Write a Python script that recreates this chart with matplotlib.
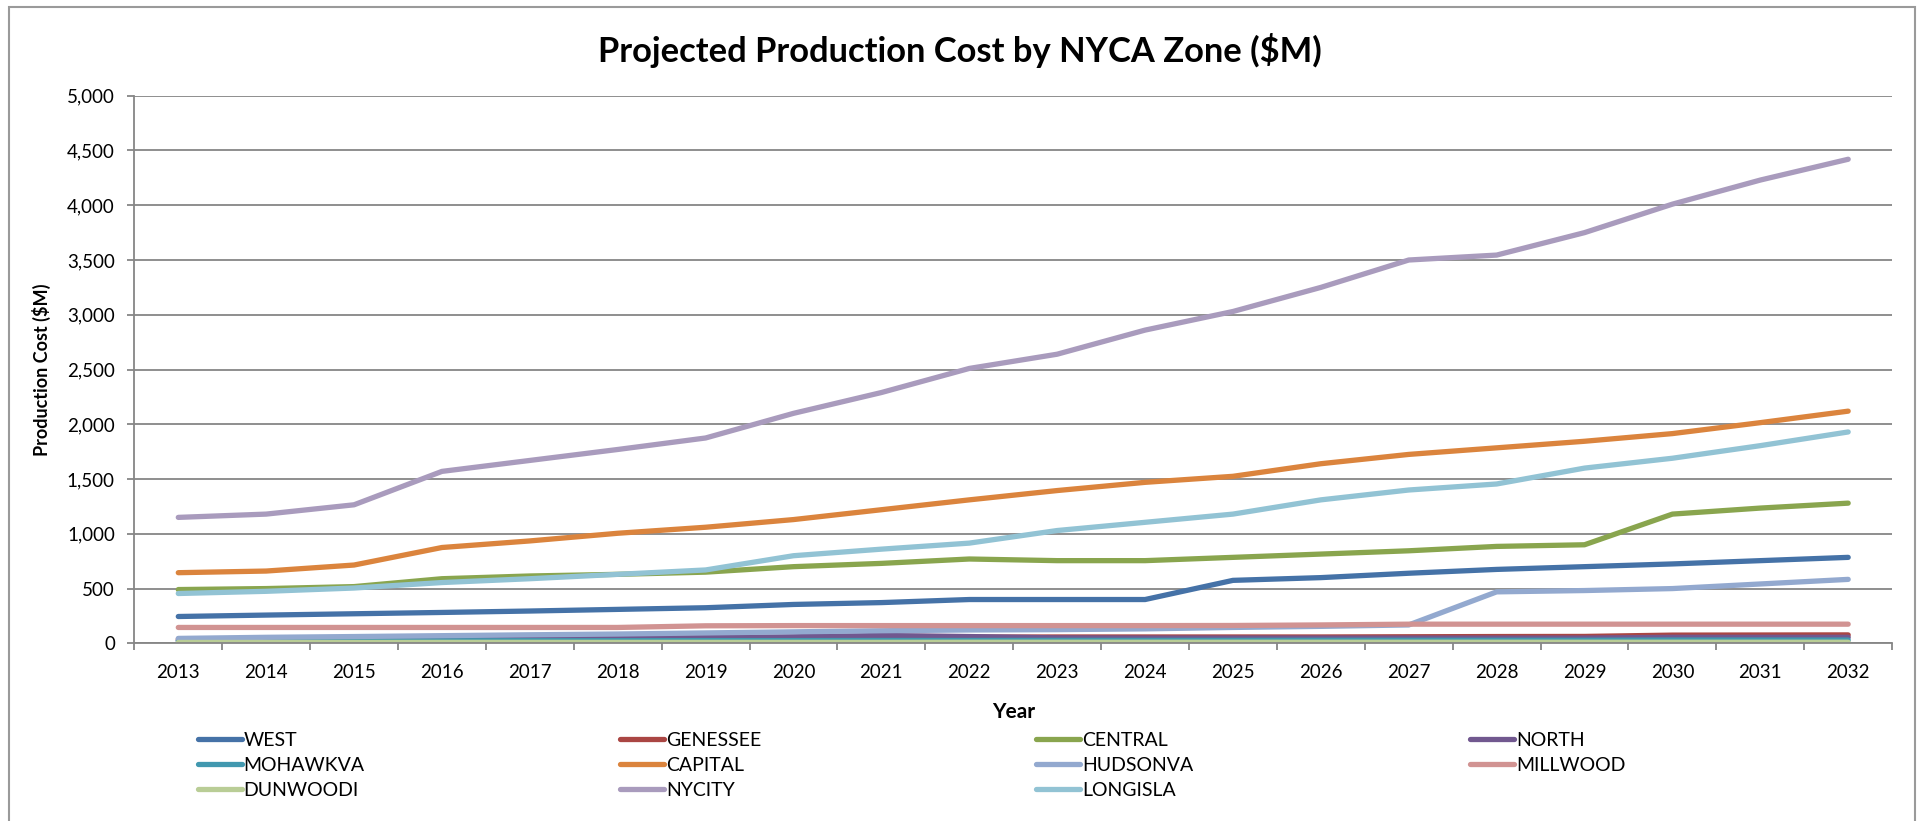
import numpy as np
import matplotlib
matplotlib.use("Agg")
import matplotlib.pyplot as plt
from matplotlib.patches import Rectangle
from matplotlib.ticker import FuncFormatter

plt.rcParams['font.family'] = ['Lato', 'DejaVu Sans']

years = [str(y) for y in range(2013, 2033)]

west = [245, 258, 270, 282, 295, 310, 325, 355, 372, 400,
        400, 400, 575, 600, 640, 675, 700, 725, 755, 785]
genessee = [38, 40, 42, 44, 46, 48, 50, 52, 55, 57,
            58, 58, 58, 58, 60, 62, 63, 75, 76, 77]
central = [491, 500, 518, 590, 615, 630, 650, 700, 730, 770,
           755, 755, 785, 815, 845, 885, 900, 1180, 1235, 1280]
north = [25, 28, 30, 33, 37, 45, 52, 60, 72, 62,
         50, 48, 48, 48, 48, 48, 48, 55, 55, 55]
mohawkva = [22, 22, 23, 23, 24, 24, 25, 25, 26, 26,
            27, 27, 27, 28, 28, 28, 28, 30, 30, 30]
capital = [645, 660, 715, 875, 935, 1005, 1060, 1130, 1220, 1310,
           1395, 1470, 1525, 1640, 1725, 1785, 1845, 1915, 2015, 2120]
hudsonva = [45, 55, 62, 70, 78, 85, 95, 105, 115, 122,
            125, 132, 145, 155, 168, 470, 482, 500, 542, 584]
millwood = [145, 145, 145, 145, 145, 145, 160, 162, 162, 162,
            162, 162, 163, 168, 175, 175, 175, 175, 175, 175]
dunwoodi = [8, 8, 8, 9, 9, 9, 9, 9, 9, 10,
            10, 10, 10, 10, 10, 10, 10, 10, 10, 10]
nycity = [1150, 1180, 1265, 1570, 1670, 1770, 1875, 2100, 2290, 2510,
          2640, 2860, 3030, 3250, 3500, 3545, 3750, 4010, 4230, 4420]
longisla = [455, 475, 505, 555, 590, 630, 670, 800, 860, 915,
            1030, 1105, 1180, 1310, 1400, 1455, 1600, 1690, 1805, 1930]

series = [
    ('WEST', west, '#4572A7'),
    ('GENESSEE', genessee, '#AA4643'),
    ('CENTRAL', central, '#89A54E'),
    ('NORTH', north, '#71588F'),
    ('MOHAWKVA', mohawkva, '#4198AF'),
    ('CAPITAL', capital, '#DB843D'),
    ('HUDSONVA', hudsonva, '#93A9CF'),
    ('MILLWOOD', millwood, '#D19392'),
    ('DUNWOODI', dunwoodi, '#B9CD96'),
    ('NYCITY', nycity, '#A99BBD'),
    ('LONGISLA', longisla, '#92C3D4'),
]

fig = plt.figure(figsize=(19.19, 8.21), dpi=100)
ax = fig.add_axes([0.070, 0.2164, 0.916, 0.667])

x = np.arange(len(years))
handles = {}
for name, vals, col in series:
    h, = ax.plot(x, vals, color=col, lw=3.8, solid_capstyle='round',
                 solid_joinstyle='round', label=name)
    handles[name] = h

ax.set_xlim(-0.5, len(years) - 0.5)
ax.set_ylim(0, 5000)
ax.set_yticks(np.arange(0, 5001, 500))
ax.yaxis.set_major_formatter(FuncFormatter(lambda v, p: f'{int(v):,}'))
ax.grid(axis='y', color='#868686', lw=1.3)
ax.set_axisbelow(True)

# year labels sit between the category tick marks
ax.set_xticks(np.arange(-0.5, len(years)), minor=False)
ax.set_xticklabels([])
ax.set_xticks(x, minor=True)
ax.set_xticklabels(years, minor=True)
ax.tick_params(axis='x', which='major', length=5, color='#868686', width=1.3)
ax.tick_params(axis='x', which='minor', length=0, pad=15, labelsize=13.5)
ax.tick_params(axis='y', length=5, color='#868686', width=1.3, pad=9,
               labelsize=13.5)

for s in ['top', 'right']:
    ax.spines[s].set_visible(False)
for s in ['left', 'bottom']:
    ax.spines[s].set_color('#868686')
    ax.spines[s].set_linewidth(1.3)

fig.text(0.5, 0.938, 'Projected Production Cost by NYCA Zone ($M)',
         fontsize=24.8, fontweight='bold', ha='center', va='center')
ax.set_ylabel('Production Cost ($M)', fontsize=13, fontweight='bold')
ax.yaxis.set_label_coords(-0.0474, 0.5)
ax.set_xlabel('Year', fontsize=15, fontweight='bold')
ax.xaxis.set_label_coords(0.5, -0.108)

# legend: four columns laid out row by row, like the original
cols = [['WEST', 'MOHAWKVA', 'DUNWOODI'],
        ['GENESSEE', 'CAPITAL', 'NYCITY'],
        ['CENTRAL', 'HUDSONVA', 'LONGISLA'],
        ['NORTH', 'MILLWOOD']]
col_x = [0.103, 0.323, 0.540, 0.766]
for cx, names in zip(col_x, cols):
    fig.legend([handles[n] for n in names], names, loc='upper left',
               bbox_to_anchor=(cx, 0.109), frameon=False, fontsize=14,
               handlelength=2.27, handletextpad=0.1, labelspacing=0.42,
               borderaxespad=0, borderpad=0)

# outer chart border (open at the bottom, as in the original)
fig.patches.append(Rectangle((0.0047, -0.05), 0.9932, 1.0415,
                             transform=fig.transFigure, fill=False,
                             edgecolor='#9A9A9A', lw=1.5))

fig.savefig('out.png', dpi=100)
